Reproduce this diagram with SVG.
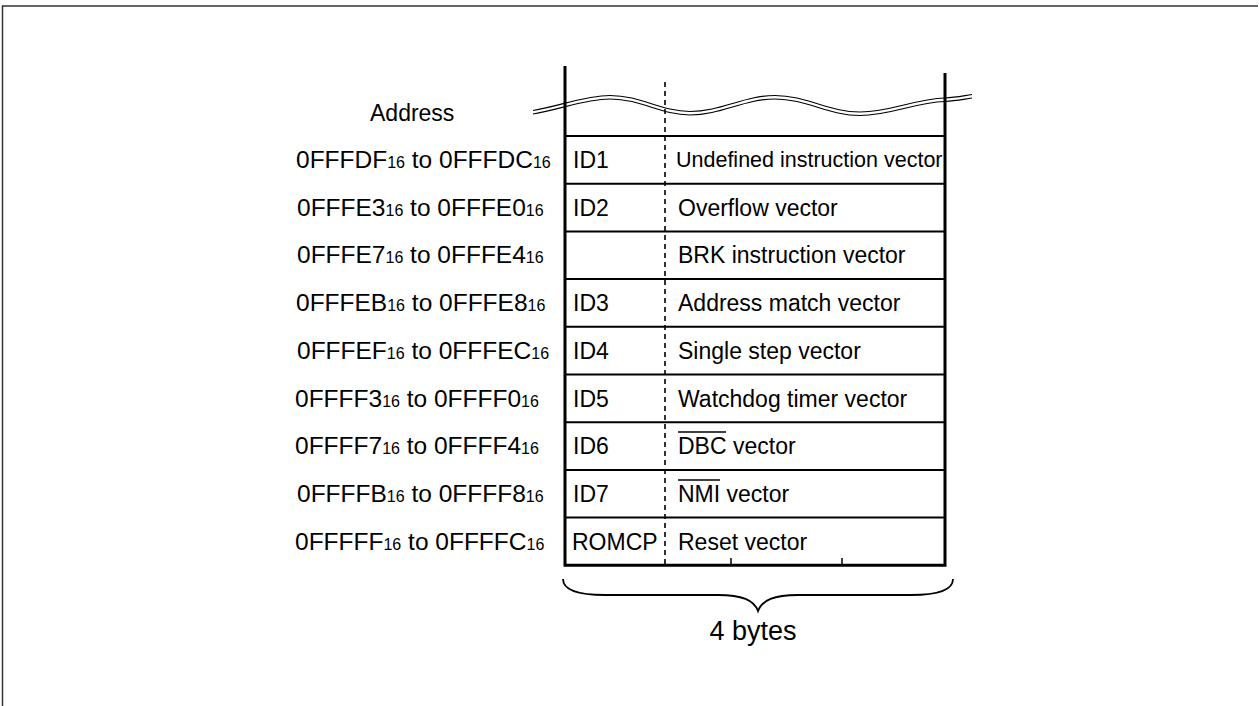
<svg xmlns="http://www.w3.org/2000/svg" width="1259" height="706" viewBox="0 0 1259 706">
<style>
text{font-family:"Liberation Sans",Arial,sans-serif;fill:#000}
.lbl{font-size:24.5px}
.hdr{font-size:23px}
.sub{font-size:16px}
.cell{font-size:23px}
.thick{stroke:#000;stroke-width:3;fill:none}
.row{stroke:#000;stroke-width:2;fill:none}
.thin{stroke:#000;stroke-width:1.5;fill:none}
.dash{stroke:#000;stroke-width:1.6;stroke-dasharray:5 4;fill:none}
.wave{stroke:#000;stroke-width:1.1;fill:none}
</style>
<rect x="0" y="0" width="1259" height="706" fill="#fff"/>
<g id="frame">
<path d="M2.5,706 L2.5,6 L1258,6" stroke="#333" stroke-width="1.5" fill="none"/>
</g>
<g id="address-header"><text class="hdr" x="370" y="121">Address</text></g>
<g id="addresses">
<text class="lbl" x="296" y="168">0FFFDF<tspan class="sub">16</tspan> to 0FFFDC<tspan class="sub">16</tspan></text>
<text class="lbl" x="297" y="215.5">0FFFE3<tspan class="sub">16</tspan> to 0FFFE0<tspan class="sub">16</tspan></text>
<text class="lbl" x="297" y="263">0FFFE7<tspan class="sub">16</tspan> to 0FFFE4<tspan class="sub">16</tspan></text>
<text class="lbl" x="296" y="311">0FFFEB<tspan class="sub">16</tspan> to 0FFFE8<tspan class="sub">16</tspan></text>
<text class="lbl" x="297" y="358.5">0FFFEF<tspan class="sub">16</tspan> to 0FFFEC<tspan class="sub">16</tspan></text>
<text class="lbl" x="295" y="406.5">0FFFF3<tspan class="sub">16</tspan> to 0FFFF0<tspan class="sub">16</tspan></text>
<text class="lbl" x="295" y="454">0FFFF7<tspan class="sub">16</tspan> to 0FFFF4<tspan class="sub">16</tspan></text>
<text class="lbl" x="297" y="502">0FFFFB<tspan class="sub">16</tspan> to 0FFFF8<tspan class="sub">16</tspan></text>
<text class="lbl" x="295" y="549.5">0FFFFF<tspan class="sub">16</tspan> to 0FFFFC<tspan class="sub">16</tspan></text>
</g>
<g id="table">
<path class="thick" d="M565,66 L565,565.3 L945,565.3 L945,73"/>
<path class="row" d="M565,136 H945 M565,183.7 H945 M565,231.4 H945 M565,279.1 H945 M565,326.8 H945 M565,374.5 H945 M565,422.2 H945 M565,469.9 H945 M565,517.6 H945"/>
<path class="dash" d="M665,82 V564"/>
<path class="thin" d="M731,558 V565 M842,558 V565"/>
</g>
<g id="break">
<path class="wave" d="M533,110.5 C560,106 585,95.5 610,95.5 C641,95.5 661,111.5 690,111.5 C721,111.5 744,95.5 775,95.5 C806,95.5 829,112 860,112 C891,112 914,99 945,98 C955,97.5 962,96 972,94.5"/>
<path class="wave" d="M533,114 C560,109.5 585,99 610,99 C641,99 661,115 690,115 C721,115 744,99 775,99 C806,99 829,115.5 860,115.5 C891,115.5 914,102.5 945,101.5 C955,101 962,99.5 972,98"/>
</g>
<g id="row-id1"><text class="cell" x="573" y="168">ID1</text><text x="676" y="167" font-size="21.5">Undefined instruction vector</text></g>
<g id="row-id2"><text class="cell" x="573" y="215.5">ID2</text><text class="cell" x="678" y="215.5">Overflow vector</text></g>
<g id="row-brk"><text class="cell" x="678" y="263">BRK instruction vector</text></g>
<g id="row-id3"><text class="cell" x="573" y="311">ID3</text><text class="cell" x="678" y="311">Address match vector</text></g>
<g id="row-id4"><text class="cell" x="573" y="358.5">ID4</text><text class="cell" x="678" y="358.5">Single step vector</text></g>
<g id="row-id5"><text class="cell" x="573" y="406.5">ID5</text><text class="cell" x="678" y="406.5">Watchdog timer vector</text></g>
<g id="row-id6"><text class="cell" x="573" y="454">ID6</text><text class="cell" x="678" y="454">DBC vector</text><line class="thin" x1="678" y1="432" x2="726" y2="432"/></g>
<g id="row-id7"><text class="cell" x="573" y="502">ID7</text><text class="cell" x="678" y="502">NMI vector</text><line class="thin" x1="678" y1="480" x2="720" y2="480"/></g>
<g id="row-romcp"><text class="cell" x="572" y="549.5">ROMCP</text><text class="cell" x="678" y="549.5">Reset vector</text></g>
<g id="brace">
<path stroke="#000" stroke-width="1.8" fill="none" d="M563,579 C563,590 578,595 605,595 L718,595 C742,595 754,600 758,611 C762,600 774,595 798,595 L911,595 C938,595 953,590 953,579"/>
<text x="753" y="640" font-size="27" text-anchor="middle">4 bytes</text>
</g>
</svg>
